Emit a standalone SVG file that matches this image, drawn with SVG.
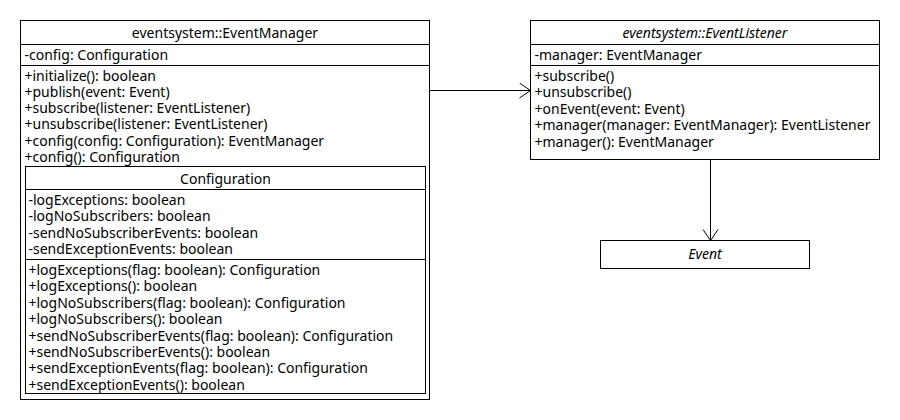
<svg xmlns="http://www.w3.org/2000/svg" width="900" height="420" viewBox="0 0 900 420">
<style>
.box{fill:#fff;stroke:#000;stroke-width:1}
.ln{stroke:#000;stroke-width:1;fill:none}
text{font-family:"Noto Sans","DejaVu Sans",sans-serif;font-size:14px;fill:#000}
.c{text-anchor:middle}
.i{font-style:italic}
</style>
<defs>
<marker id="open" markerWidth="14" markerHeight="18" refX="12" refY="8" orient="auto" markerUnits="userSpaceOnUse">
<path d="M1,0.5 L12,8 L1,15.5" fill="none" stroke="#000" stroke-width="1"/>
</marker>
</defs>
<rect width="900" height="420" fill="#fff"/>
<g id="EventManager">
<rect class="box" x="20.5" y="20.5" width="409" height="379"/>
<line class="ln" x1="20.5" y1="44.5" x2="429.5" y2="44.5"/>
<line class="ln" x1="20.5" y1="65.5" x2="429.5" y2="65.5"/>
<text class="c" x="225" y="37.5">eventsystem::EventManager</text>
<text x="24.5" y="60">-config: Configuration</text>
<text x="24.5" y="80.5">+initialize(): boolean</text>
<text x="24.5" y="96.8">+publish(event: Event)</text>
<text x="24.5" y="113.1">+subscribe(listener: EventListener)</text>
<text x="24.5" y="129.4">+unsubscribe(listener: EventListener)</text>
<text x="24.5" y="145.7">+config(config: Configuration): EventManager</text>
<text x="24.5" y="162">+config(): Configuration</text>
</g>
<g id="Configuration">
<rect class="box" x="25.5" y="166.5" width="400" height="227"/>
<line class="ln" x1="25.5" y1="189.5" x2="425.5" y2="189.5"/>
<line class="ln" x1="25.5" y1="259.5" x2="425.5" y2="259.5"/>
<text class="c" x="225.5" y="183.5">Configuration</text>
<text x="28.5" y="205">-logExceptions: boolean</text>
<text x="28.5" y="221.4">-logNoSubscribers: boolean</text>
<text x="28.5" y="237.8">-sendNoSubscriberEvents: boolean</text>
<text x="28.5" y="254.2">-sendExceptionEvents: boolean</text>
<text x="28.5" y="275">+logExceptions(flag: boolean): Configuration</text>
<text x="28.5" y="291.4">+logExceptions(): boolean</text>
<text x="28.5" y="307.8">+logNoSubscribers(flag: boolean): Configuration</text>
<text x="28.5" y="324.2">+logNoSubscribers(): boolean</text>
<text x="28.5" y="340.6">+sendNoSubscriberEvents(flag: boolean): Configuration</text>
<text x="28.5" y="357">+sendNoSubscriberEvents(): boolean</text>
<text x="28.5" y="373.4">+sendExceptionEvents(flag: boolean): Configuration</text>
<text x="28.5" y="389.8">+sendExceptionEvents(): boolean</text>
</g>
<g id="EventListener">
<rect class="box" x="530.5" y="20.5" width="349" height="139"/>
<line class="ln" x1="530.5" y1="44.5" x2="879.5" y2="44.5"/>
<line class="ln" x1="530.5" y1="65.5" x2="879.5" y2="65.5"/>
<text class="c i" x="705" y="37.5">eventsystem::EventListener</text>
<text x="534.5" y="60">-manager: EventManager</text>
<text x="534.5" y="81">+subscribe()</text>
<text x="534.5" y="97.4">+unsubscribe()</text>
<text x="534.5" y="113.8">+onEvent(event: Event)</text>
<text x="534.5" y="130.2">+manager(manager: EventManager): EventListener</text>
<text x="534.5" y="146.6">+manager(): EventManager</text>
</g>
<g id="Event">
<rect class="box" x="600.5" y="240.5" width="209" height="28"/>
<text class="c i" x="705" y="258.5">Event</text>
</g>
<g id="connectors">
<line class="ln" x1="429.5" y1="90.5" x2="530.5" y2="90.5" marker-end="url(#open)"/>
<line class="ln" x1="710.5" y1="159.5" x2="710.5" y2="240.5" marker-end="url(#open)"/>
</g>
</svg>
